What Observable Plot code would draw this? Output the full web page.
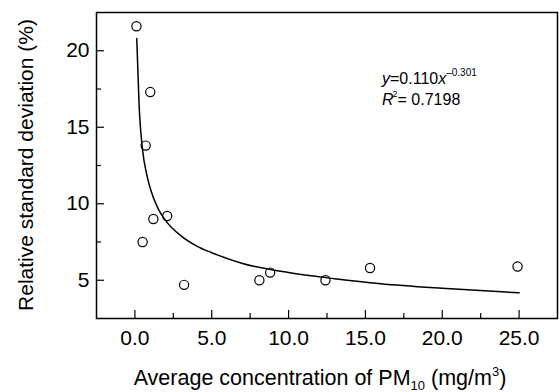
<!DOCTYPE html>
<html><head><meta charset="utf-8">
<script src="https://cdn.jsdelivr.net/npm/d3@7"></script>
<script src="https://cdn.jsdelivr.net/npm/@observablehq/plot@0.6"></script>
<style>
html,body{margin:0;padding:0;background:#fff;}
</style>
</head><body><div id="chart"></div>
<script>
// Measured points: average PM10 concentration (mg/m3) vs relative standard deviation (%)
const pmConc = [0.1, 1.0, 0.7, 1.2, 2.1, 0.5, 3.2, 8.1, 8.8, 12.4, 15.3, 24.9];
const rsd    = [21.6, 17.3, 13.8, 9.0, 9.2, 7.5, 4.7, 5.0, 5.5, 5.0, 5.8, 5.9];
// Fitted curve
const fitX = [0.12, 0.27, 0.5, 0.75, 1.0, 1.5, 2.0, 3.0, 4.0, 5.0, 7.0, 10.0, 13.0, 16.0, 20.0, 25.0];
const fitY = [20.8, 16.5, 13.5, 12.0, 11.0, 9.7, 8.9, 7.9, 7.25, 6.8, 6.1, 5.5, 5.1, 4.77, 4.47, 4.18];
// Ticks
const xMajor = [0, 5, 10, 15, 20, 25];
const xMinor = [2.5, 7.5, 12.5, 17.5, 22.5];
const yMajor = [5, 10, 15, 20];
const yMinor = [7.5, 12.5, 17.5];
// Texts
const yTitle = "Relative standard deviation (%)";
const xTitle = ["Average concentration of PM", "10", " (mg/m", "3", ")"];
const eqLine = ["y", "=0.110", "x", "\u20130.301"];
const r2Line = ["R", "2", "= 0.7198"];

const points = pmConc.map((x, i) => ({x, y: rsd[i]}));
const fit = fitX.map((x, i) => ({x, y: fitY[i]}));

const plot = Plot.plot({
  width: 559, height: 392,
  marginLeft: 96, marginRight: 2, marginTop: 12, marginBottom: 74,
  style: {fontFamily: "'Liberation Sans', Arial, sans-serif", fontSize: "21px", background: "white", color: "black", overflow: "visible"},
  x: {domain: [-2.5, 27.5], label: null},
  y: {domain: [2.5, 22.5], label: null},
  marks: [
    Plot.axisX(xMajor, {tickSize: -8, text: null, label: null, strokeWidth: 1.2}),
    Plot.axisX(xMinor, {tickSize: -5, text: null, label: null, strokeWidth: 1.2}),
    Plot.axisX(xMajor, {tickSize: 0, tickPadding: 12, tickFormat: d3.format(".1f"), fontSize: 21, label: null}),
    Plot.axisY(yMajor, {tickSize: -8, text: null, label: null, strokeWidth: 1.2}),
    Plot.axisY(yMinor, {tickSize: -5, text: null, label: null, strokeWidth: 1.2}),
    Plot.axisY(yMajor, {tickSize: 0, tickPadding: 7, tickFormat: d3.format("d"), fontSize: 21, label: null}),
    Plot.frame({strokeWidth: 1.5}),
    Plot.line(fit, {x: "x", y: "y", curve: "monotone-x", strokeWidth: 1.5, stroke: "black"}),
    Plot.dot(points, {x: "x", y: "y", r: 4.6, stroke: "black", strokeWidth: 1.2, fill: "none"})
  ]
});
document.getElementById("chart").appendChild(plot);

const svg = d3.select(plot);
// y title
svg.append("text")
  .attr("transform", "translate(33,165) rotate(-90)")
  .attr("text-anchor", "middle").attr("font-size", 21).attr("fill", "black")
  .text(yTitle);
// x title
const xt = svg.append("text").attr("x", 320).attr("y", 385)
  .attr("text-anchor", "middle").attr("font-size", 21.5).attr("fill", "black");
xt.append("tspan").text(xTitle[0]);
xt.append("tspan").attr("font-size", 13).attr("dy", 5).text(xTitle[1]);
xt.append("tspan").attr("dy", -5).text(xTitle[2]);
xt.append("tspan").attr("font-size", 13).attr("dy", -9).text(xTitle[3]);
xt.append("tspan").attr("dy", 9).text(xTitle[4]);
// equation
const eq = svg.append("text").attr("x", 382).attr("y", 84)
  .attr("text-anchor", "start").attr("font-size", 16).attr("fill", "black");
eq.append("tspan").attr("font-style", "italic").text(eqLine[0]);
eq.append("tspan").text(eqLine[1]);
eq.append("tspan").attr("font-style", "italic").text(eqLine[2]);
eq.append("tspan").attr("font-size", 10).attr("dy", -8).text(eqLine[3]);
const r2 = svg.append("text").attr("x", 382).attr("y", 105)
  .attr("text-anchor", "start").attr("font-size", 16).attr("fill", "black");
r2.append("tspan").attr("font-style", "italic").text(r2Line[0]);
r2.append("tspan").attr("font-size", 9).attr("dy", -8).attr("dx", -1).text(r2Line[1]);
r2.append("tspan").attr("dy", 8).text(r2Line[2]);
</script>
</body></html>
